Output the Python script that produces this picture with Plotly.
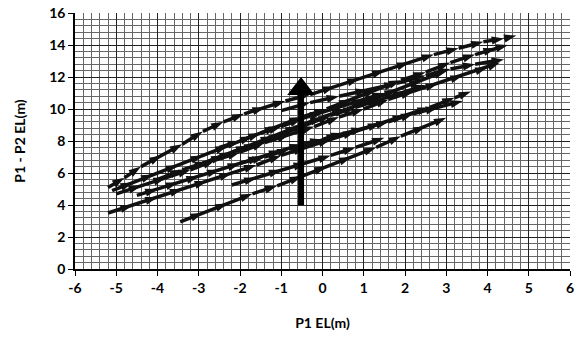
import plotly.graph_objects as go

# Streak series (x = P1 EL, y = P1 - P2 EL)
s1_x = [-5.2, -4.8, -4.4, -3.9, -3.4, -2.9, -2.4, -1.9, -1.4, -0.9, -0.3, 0.3, 0.9, 1.5, 2.1, 2.7, 3.3, 3.9, 4.4, 4.7]
s1_y = [5.1, 5.7, 6.4, 7.1, 7.8, 8.6, 9.2, 9.7, 10.1, 10.5, 10.9, 11.4, 11.9, 12.4, 12.9, 13.4, 13.8, 14.2, 14.4, 14.6]
s2_x = [-5.1, -4.6, -4.1, -3.5, -2.9, -2.3, -1.7, -1.1, -0.5, 0.1, 0.7, 1.3, 1.9, 2.5, 3.1, 3.7, 4.2, 4.5]
s2_y = [4.9, 5.4, 5.9, 6.5, 7.1, 7.7, 8.3, 8.9, 9.5, 10.0, 10.6, 11.2, 11.8, 12.3, 12.9, 13.4, 13.8, 14.0]
s3_x = [-5.0, -4.4, -3.8, -3.2, -2.6, -2.0, -1.4, -0.8, -0.2, 0.4, 1.0, 1.6, 2.2, 2.8, 3.4, 4.0, 4.3]
s3_y = [4.7, 5.2, 5.7, 6.2, 6.8, 7.3, 7.9, 8.4, 8.9, 9.5, 10.0, 10.6, 11.1, 11.6, 12.1, 12.6, 12.9]
s4_x = [-5.2, -4.6, -4.0, -3.4, -2.8, -2.2, -1.6, -1.0, -0.4, 0.2, 0.8, 1.4, 2.0, 2.6, 3.2, 3.6]
s4_y = [3.5, 4.0, 4.5, 5.0, 5.5, 6.0, 6.5, 7.1, 7.6, 8.1, 8.6, 9.1, 9.6, 10.1, 10.7, 11.1]
s5_x = [-3.45, -2.9, -2.3, -1.7, -1.1, -0.5, 0.1, 0.7, 1.3, 1.9, 2.5, 3.0]
s5_y = [2.95, 3.5, 4.1, 4.7, 5.2, 5.8, 6.4, 7.0, 7.6, 8.3, 8.9, 9.45]
s6_x = [-2.2, -1.6, -1.0, -0.4, 0.2, 0.8, 1.5]
s6_y = [5.25, 5.7, 6.2, 6.6, 7.1, 7.6, 8.2]
s7_x = [-4.0, -3.4, -2.8, -2.2, -1.6, -1.0, -0.4, 0.2, 0.8, 1.4, 2.0, 2.5]
s7_y = [5.6, 6.2, 6.7, 7.3, 7.8, 8.4, 9.0, 9.6, 10.1, 10.6, 11.1, 11.5]
s8_x = [-3.0, -2.4, -1.8, -1.2, -0.6, 0.0, 0.6, 1.2, 1.8, 2.4, 3.0]
s8_y = [6.5, 7.1, 7.7, 8.3, 8.9, 9.5, 10.0, 10.6, 11.2, 11.8, 12.4]
s9_x = [-2.5, -2.0, -1.5, -1.0, -0.5, 0.0, 0.5, 1.0, 1.5]
s9_y = [7.6, 8.0, 8.5, 8.9, 9.4, 9.8, 10.2, 10.6, 11.0]
s10_x = [-4.5, -4.0, -3.5, -3.0, -2.5, -2.0, -1.5, -1.0, -0.5, 0.0, 0.5]
s10_y = [4.6, 5.0, 5.4, 5.8, 6.2, 6.6, 7.0, 7.4, 7.8, 8.1, 8.5]
s11_x = [-1.0, -0.3, 0.4, 1.1, 1.8, 2.5, 3.1, 3.7, 4.4]
s11_y = [9.9, 10.4, 10.8, 11.2, 11.6, 12.1, 12.5, 12.8, 13.1]
s12_x = [-2.0, -1.4, -0.8, -0.2, 0.4, 1.0, 1.6, 2.2, 2.8, 3.4]
s12_y = [6.6, 7.0, 7.5, 7.9, 8.4, 8.8, 9.2, 9.7, 10.1, 10.5]
streaks = [(s1_x, s1_y), (s2_x, s2_y), (s3_x, s3_y), (s4_x, s4_y), (s5_x, s5_y),
           (s6_x, s6_y), (s7_x, s7_y), (s8_x, s8_y), (s9_x, s9_y), (s10_x, s10_y),
           (s11_x, s11_y), (s12_x, s12_y)]

# Vertical arrow: stem and head
stem_x = [-0.52, -0.52]
stem_y = [4.0, 10.9]
head_x = [-0.52]
head_y = [11.25]

x_ticks = [-6, -5, -4, -3, -2, -1, 0, 1, 2, 3, 4, 5, 6]
y_ticks = [0, 2, 4, 6, 8, 10, 12, 14, 16]

fig = go.Figure()
for xs, ys in streaks:
    fig.add_trace(go.Scatter(
        x=xs, y=ys, mode="lines+markers",
        line=dict(color="#111111", width=3.5),
        marker=dict(symbol="arrow", angleref="previous", size=13, color="#111111",
                    line=dict(width=0)),
        showlegend=False, hoverinfo="skip"))

fig.add_trace(go.Scatter(
    x=stem_x, y=stem_y, mode="lines",
    line=dict(color="#000000", width=6),
    showlegend=False, hoverinfo="skip"))
fig.add_trace(go.Scatter(
    x=head_x, y=head_y, mode="markers",
    marker=dict(symbol="triangle-up", size=24, color="#000000", line=dict(width=0)),
    showlegend=False, hoverinfo="skip"))

font_family = "Lato, 'Liberation Sans', Arial, sans-serif"

fig.update_layout(
    width=584, height=345,
    margin=dict(l=75, r=14, t=13, b=76, autoexpand=False),
    paper_bgcolor="white", plot_bgcolor="white",
    font=dict(family=font_family, size=14, color="#000000"),
    showlegend=False,
)
fig.update_xaxes(
    range=[-6, 6], tickvals=x_ticks, ticktext=["<b>%d</b>" % v for v in x_ticks],
    automargin=False,
    showgrid=True, gridcolor="#222222", gridwidth=1.3,
    minor=dict(dtick=0.2, showgrid=True, gridcolor="#666666", gridwidth=1),
    ticks="outside", ticklen=5, tickcolor="#000", tickwidth=1,
    showline=True, linecolor="#000", linewidth=1.5, mirror=False,
    zeroline=False,
    tickfont=dict(family=font_family, size=14, color="#000"),
    title=dict(text="<b>P1 EL(m)</b>", font=dict(family=font_family, size=14), standoff=24),
)
fig.update_yaxes(
    range=[0, 16], tickvals=y_ticks, ticktext=["<b>%d</b>" % v for v in y_ticks],
    automargin=False,
    showgrid=True, gridcolor="#222222", gridwidth=1.3,
    minor=dict(dtick=0.4, showgrid=True, gridcolor="#666666", gridwidth=1),
    ticks="outside", ticklen=5, tickcolor="#000", tickwidth=1,
    showline=True, linecolor="#000", linewidth=1.5, mirror=False,
    zeroline=False,
    tickfont=dict(family=font_family, size=14, color="#000"),
    title=dict(text="<b>P1 - P2 EL(m)</b>", font=dict(family=font_family, size=14), standoff=20),
)
fig.write_html("out.html")
